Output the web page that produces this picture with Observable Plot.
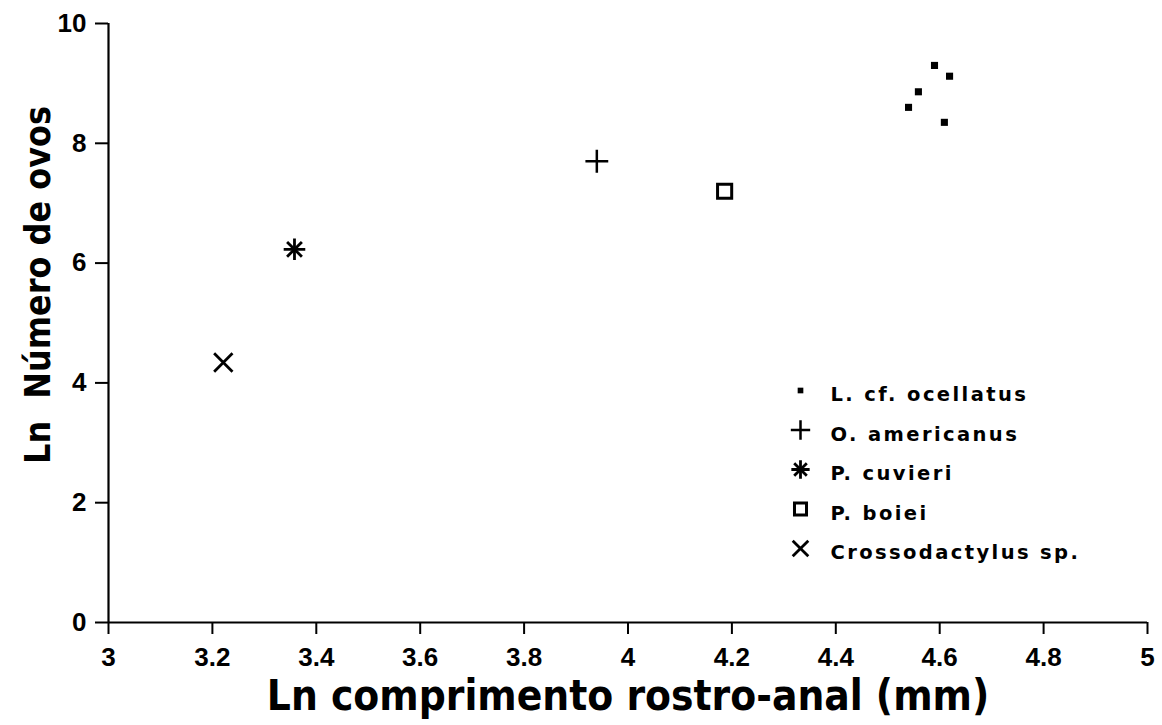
<!DOCTYPE html>
<html><head><meta charset="utf-8">
<script src="https://cdn.jsdelivr.net/npm/d3@7"></script>
<script src="https://cdn.jsdelivr.net/npm/@observablehq/plot@0.6"></script>
<style>
body{margin:0;background:#fff;}
svg{font-family:"Liberation Sans",sans-serif;}
g[font-family="DejaVu Sans"] text{letter-spacing:2.4px;}
g[aria-label="x-axis tick label"], g[aria-label="y-axis tick label"]{font-size:26px;font-weight:bold;}
</style>
</head><body>
<div id="chart"></div>
<script>
// Data
const species = ["L. cf. ocellatus", "O. americanus", "P. cuvieri", "P. boiei", "Crossodactylus sp."];
const ocellatusX = [4.590, 4.619, 4.559, 4.540, 4.609];
const ocellatusY = [9.30, 9.12, 8.86, 8.60, 8.35];
const americanusX = [3.94];
const americanusY = [7.70];
const cuvieriX = [3.358];
const cuvieriY = [6.23];
const boieiX = [4.186];
const boieiY = [7.20];
const crossoX = [3.221];
const crossoY = [4.34];
const xTicks = [3, 3.2, 3.4, 3.6, 3.8, 4, 4.2, 4.4, 4.6, 4.8, 5];
const yTicks = [0, 2, 4, 6, 8, 10];
const xLabel = "Ln comprimento rostro-anal (mm)";
const yLabel = "Ln  Número de ovos";

const pts = (xs, ys) => xs.map((x, i) => ({x, y: ys[i]}));

// Symbol styles per species
const styles = [
  [{symbol: "square", fill: "black", stroke: "none", r: 4}],
  [{symbol: "plus", fill: "none", stroke: "black", r: 7.4, strokeWidth: 2.5}],
  [{symbol: "plus", fill: "none", stroke: "black", r: 7.0, strokeWidth: 2.8},
   {symbol: "times", fill: "none", stroke: "black", r: 6.8, strokeWidth: 2.8}],
  [{symbol: "square2", fill: "none", stroke: "black", r: 9, strokeWidth: 3}],
  [{symbol: "times", fill: "none", stroke: "black", r: 8.4, strokeWidth: 2.8}]
];
const legendScale = [0.8, 0.85, 0.85, 0.85, 0.85];
const data = [
  pts(ocellatusX, ocellatusY),
  pts(americanusX, americanusY),
  pts(cuvieriX, cuvieriY),
  pts(boieiX, boieiY),
  pts(crossoX, crossoY)
];

const marks = [];
// axis lines
marks.push(Plot.ruleX([3], {strokeWidth: 2.2}));
marks.push(Plot.ruleY([0], {strokeWidth: 2.2}));
marks.push(Plot.axisX(xTicks, {tickSize: 12, tickPadding: 13, fontSize: 26, fontWeight: "bold", strokeWidth: 2, label: null, tickFormat: d => String(d)}));
marks.push(Plot.axisY(yTicks, {tickSize: 13, tickPadding: 9, fontSize: 26, fontWeight: "bold", strokeWidth: 2, label: null, tickFormat: d => String(d)}));

// data points
data.forEach((d, i) => {
  styles[i].forEach(s => {
    marks.push(Plot.dot(d, {x: "x", y: "y", ...s}));
  });
});

// legend inside the frame
species.forEach((name, i) => {
  styles[i].forEach(s => {
    marks.push(Plot.dot([name], {frameAnchor: "top-left", dx: 692, dy: 367 + i * 39.5,
      ...s, r: s.r * legendScale[i]}));
  });
  marks.push(Plot.text([name], {frameAnchor: "top-left", dx: 722, dy: 364 + i * 39.5,
    text: d => d, textAnchor: "start", fontSize: 19.5, fontWeight: "bold",
    fontFamily: "DejaVu Sans", fill: "black"}));
});

// axis titles
marks.push(Plot.text([xLabel], {frameAnchor: "bottom", dy: 87, text: d => d,
  fontSize: 42, fontWeight: "bold", fontFamily: "DejaVu Sans Condensed", fill: "black"}));
marks.push(Plot.text([yLabel], {frameAnchor: "left", textAnchor: "middle", dx: -70, dy: -38, rotate: -90,
  text: d => d, fontSize: 35.5, fontWeight: "bold", fontFamily: "DejaVu Sans Condensed", fill: "black"}));

const chart = Plot.plot({
  width: 1162,
  height: 725,
  marginLeft: 108,
  marginRight: 15,
  marginTop: 23,
  marginBottom: 103,
  x: {domain: [3, 5]},
  y: {domain: [0, 10]},
  style: {background: "white", color: "black"},
  marks
});
document.getElementById("chart").appendChild(chart);
</script>
</body></html>
